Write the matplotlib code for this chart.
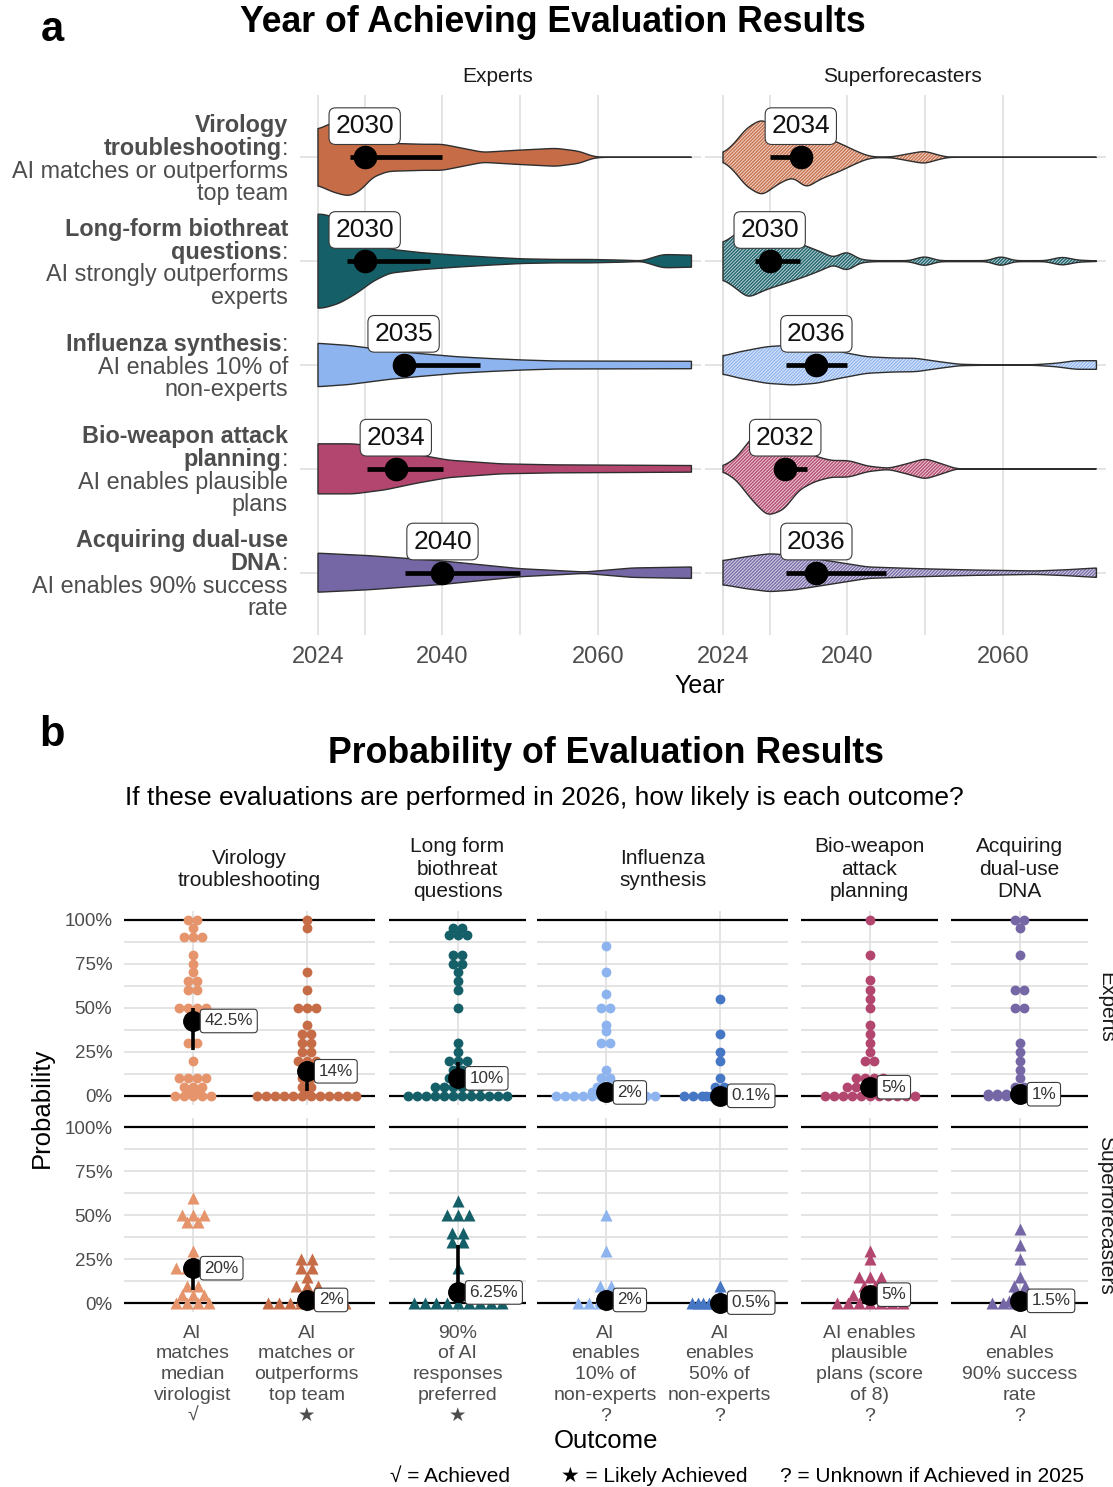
import numpy as np
import matplotlib
matplotlib.use("Agg")
import matplotlib.pyplot as plt
from matplotlib.colors import to_rgb

plt.rcParams["font.family"] = ["Liberation Sans", "DejaVu Sans"]
plt.rcParams["hatch.linewidth"] = 0.65

W, H, DPI = 1113, 1487, 100

# ---------------- panel a: year of achieving evaluation results ----------------
task_heads = [["Virology", "troubleshooting"], ["Long-form biothreat", "questions"],
              ["Influenza synthesis"], ["Bio-weapon attack", "planning"],
              ["Acquiring dual-use", "DNA"]]
task_claims = [["AI matches or outperforms", "top team"], ["AI strongly outperforms", "experts"],
               ["AI enables 10% of", "non-experts"], ["AI enables plausible", "plans"],
               ["AI enables 90% success", "rate"]]
task_colors = ["#c66d47", "#155f68", "#8db4ef", "#b3466e", "#7567a6"]
groups = ["Experts", "Superforecasters"]

# density profiles (year, relative density) per task and group
exp_vir_years = [2024, 2026, 2028, 2029.5, 2031, 2033, 2037.5, 2040, 2042.6, 2045.2, 2049.5, 2054.6, 2057.6, 2059.3, 2060.5, 2072]
exp_vir_dens = [28, 35, 39, 33, 20, 14, 13, 13, 9, 5, 7, 9, 6, 1, 0, 0]
exp_long_years = [2024, 2024.7, 2026.8, 2029, 2031.1, 2033.2, 2037.5, 2041.8, 2046, 2050.3, 2054.6, 2058.9, 2063.2, 2065.7, 2068.3, 2072]
exp_long_dens = [47, 47, 42, 32, 20, 12, 8.3, 6, 4, 2.3, 1.7, 1.7, 1, 0.3, 6.7, 6]
exp_flu_years = [2024, 2028, 2033.2, 2037, 2041.8, 2046, 2050.3, 2054.6, 2072]
exp_flu_dens = [21.7, 19.5, 14.3, 11.5, 8.3, 6.5, 5, 4, 3.7]
exp_bio_years = [2024, 2028.6, 2032.6, 2036.7, 2040.8, 2047.5, 2054.3, 2072]
exp_bio_dens = [25, 25, 21, 14.3, 8.7, 5, 4, 3.3]
exp_dna_years = [2024, 2030.6, 2040, 2050, 2058.3, 2064.4, 2072]
exp_dna_dens = [19.5, 17, 11.7, 4, 0.7, 4.7, 5.7]

sf_vir_years = [2024, 2025.3, 2027, 2029, 2031.3, 2033, 2034.7, 2036.4, 2039, 2041.1, 2042.4, 2043.5, 2045.8, 2047.5, 2049.9, 2051.8, 2053, 2072]
sf_vir_dens = [4, 12.5, 29, 38.3, 25.7, 19.7, 30.7, 22.3, 14, 6.3, 2, 0.3, 0.5, 3, 6.3, 2, 0, 0]
sf_long_years = [2024, 2025.3, 2027.2, 2029.6, 2032.2, 2034.7, 2036.9, 2038.2, 2039.9, 2041.6, 2043.3, 2048, 2049.9, 2051.8, 2058, 2059.7, 2061.5, 2065.5, 2067.6, 2069.6, 2072]
sf_long_dens = [18.3, 25, 36.7, 28.3, 21.7, 15, 8.3, 3.3, 10, 1.7, 0.5, 0.5, 5, 0.5, 0.5, 5, 0.5, 0.5, 4.3, 1, 0.3]
sf_flu_years = [2024, 2026.2, 2029.6, 2033, 2036, 2039, 2042.4, 2045.8, 2048.8, 2051.8, 2054.4, 2057, 2064, 2066.8, 2069.3, 2072]
sf_flu_dens = [9, 13.3, 18.3, 20, 18.3, 13.3, 8.3, 7, 6.7, 3.3, 0.7, 0.3, 0.3, 1.7, 4.3, 4.3]
sf_bio_years = [2024, 2025.7, 2027.7, 2029.7, 2031.8, 2033.8, 2035.8, 2037.9, 2040.2, 2042.6, 2045.3, 2047.6, 2050, 2052.4, 2054, 2072]
sf_bio_dens = [2.5, 11, 31, 47, 41, 21, 12.7, 8.3, 8.3, 2.7, 0.5, 5, 10.3, 4.3, 0, 0]
sf_dna_years = [2024, 2027, 2030, 2033.1, 2035.8, 2039.9, 2042.6, 2049.3, 2056.1, 2064.2, 2068.3, 2072]
sf_dna_dens = [12, 16, 19, 17.3, 14, 9, 5.7, 4, 2.7, 1.7, 3, 4.7]

exp_median_year = [2030, 2030, 2035, 2034, 2040]
exp_interval_lo = [2028.1, 2027.7, 2034, 2030.3, 2035.2]
exp_interval_hi = [2040, 2038.4, 2044.8, 2040.1, 2050]
sf_median_year = [2034, 2030, 2036, 2032, 2036]
sf_interval_lo = [2030, 2028.1, 2032.1, 2031, 2032.1]
sf_interval_hi = [2035, 2033.9, 2039.9, 2034.8, 2045]

# ---------------- panel b: probability of evaluation results ----------------
outcome_tasks = ["Virology\ntroubleshooting", "Long form\nbiothreat\nquestions",
                 "Influenza\nsynthesis", "Bio-weapon\nattack\nplanning",
                 "Acquiring\ndual-use\nDNA"]
outcomes_per_task = [2, 1, 2, 1, 1]
outcome_labels = [["AI", "matches", "median", "virologist"],
                  ["AI", "matches or", "outperforms", "top team"],
                  ["90%", "of AI", "responses", "preferred"],
                  ["AI", "enables", "10% of", "non-experts"],
                  ["AI", "enables", "50% of", "non-experts"],
                  ["AI enables", "plausible", "plans (score", "of 8)"],
                  ["AI", "enables", "90% success", "rate"]]
outcome_status = ["\u221a", "\u2605", "\u2605", "?", "?", "?", "?"]
outcome_colors = ["#e5946c", "#c66d47", "#155f68", "#8db4ef", "#4677c4", "#b3466e", "#7567a6"]

exp_prob_vir_median = [100, 100, 95, 90, 90, 90, 80, 75, 70, 65, 65, 60, 60, 50, 50, 50, 50, 45,
                       40, 30, 30, 20, 10, 10, 10, 10, 5, 5, 5, 3, 3, 0, 0, 0, 0, 0]
exp_prob_vir_top = [100, 95, 70, 60, 50, 50, 50, 40, 35, 35, 30, 30, 25, 25, 20, 20, 20, 15, 13,
                    10, 10, 5, 5, 3] + [0] * 12
exp_prob_longform = [95, 95, 91, 91, 91, 80, 80, 75, 75, 70, 65, 60, 50, 30, 25, 20, 20, 20, 15,
                     15, 10, 10, 10] + [5] * 6 + [0] * 12
exp_prob_flu10 = [85, 70, 58, 50, 50, 40, 37, 30, 30, 15, 10, 10, 5, 5, 5, 2, 2, 2, 2] + [0] * 12
exp_prob_flu50 = [55, 35, 25, 20, 10, 5, 5] + [0.1] * 4 + [0] * 9
exp_prob_bio = [100, 80, 66, 60, 55, 50, 40, 35, 30, 25, 20, 20, 10, 10, 10, 10] + [5] * 6 + [0] * 11
exp_prob_dna = [100, 100, 95, 80, 60, 60, 50, 50, 30, 25, 20, 15, 10, 5, 5] + [1] * 8 + [0] * 8

sf_prob_vir_median = [60, 50, 50, 50, 46, 46, 30, 25, 20, 20, 20, 20, 10, 10, 5, 5, 5, 0, 0, 0, 0]
sf_prob_vir_top = [25, 25, 20, 20, 15, 10, 10, 10, 5, 2, 2] + [0] * 8
sf_prob_longform = [58, 50, 50, 50, 40, 40, 35, 35, 20, 6.25] + [0] * 9
sf_prob_flu10 = [50, 30, 10, 10, 5, 2, 2] + [0] * 6
sf_prob_flu50 = [10, 5] + [0.5] * 5 + [0] * 6
sf_prob_bio = [30, 25, 15, 15, 15, 10, 10, 5, 5, 5, 5] + [0] * 7
sf_prob_dna = [42, 33, 25, 15, 10, 10, 5, 5, 1.5, 1.5, 1.5] + [0] * 6

exp_prob_lo = [26, 3, 5, 0, 0, 2, 0]
exp_prob_hi = [50, 20, 19, 5, 2, 8, 3]
sf_prob_lo = [7.5, 0, 0, 0, 0, 2, 0]
sf_prob_hi = [22, 5, 33, 5, 2, 8, 5]

# ------------------------------------------------------------------------------
fig = plt.figure(figsize=(W / DPI, H / DPI), dpi=DPI)
fig.patch.set_facecolor("white")
renderer = fig.canvas.get_renderer()

TXT_GRAY = "#4d4d4d"
STRIP = "#1a1a1a"
GRID = "#e2e2e2"


def fx(px):
    return px / W


def fy(py):
    return 1 - py / H


def add_ax(x0, y0, x1, y1):
    return fig.add_axes([x0 / W, 1 - y1 / H, (x1 - x0) / W, (y1 - y0) / H])


def lighten(c, amt):
    r, g, b = to_rgb(c)
    return (r + (1 - r) * amt, g + (1 - g) * amt, b + (1 - b) * amt)


def smooth_profile(years, dens, n=900, sigma=0.5):
    g = np.linspace(years[0], years[-1], n)
    d = np.interp(g, years, dens)
    step = g[1] - g[0]
    k = max(1, int(3 * sigma / step))
    kern = np.exp(-0.5 * (np.arange(-k, k + 1) * step / sigma) ** 2)
    kern /= kern.sum()
    d = np.convolve(np.pad(d, k, mode="edge"), kern, mode="valid")
    return g, d


# ---------------- panel a ----------------
PX_PER_YEAR = 7.78
XLIM_A = (2021.7, 2073.2)
ROW_PX = 103.75
VIOLIN_SCALE = 1.0 / ROW_PX
A_TOP, A_BOT = 95, 635
panel_left = [318 - (2024 - XLIM_A[0]) * PX_PER_YEAR, 723 - (2024 - XLIM_A[0]) * PX_PER_YEAR]
panel_w = (XLIM_A[1] - XLIM_A[0]) * PX_PER_YEAR

profiles = {
    "Experts": [(exp_vir_years, exp_vir_dens), (exp_long_years, exp_long_dens),
                (exp_flu_years, exp_flu_dens), (exp_bio_years, exp_bio_dens),
                (exp_dna_years, exp_dna_dens)],
    "Superforecasters": [(sf_vir_years, sf_vir_dens), (sf_long_years, sf_long_dens),
                         (sf_flu_years, sf_flu_dens), (sf_bio_years, sf_bio_dens),
                         (sf_dna_years, sf_dna_dens)],
}
summaries = {
    "Experts": (exp_median_year, exp_interval_lo, exp_interval_hi),
    "Superforecasters": (sf_median_year, sf_interval_lo, sf_interval_hi),
}

for gi, grp in enumerate(groups):
    ax = add_ax(panel_left[gi], A_TOP, panel_left[gi] + panel_w, A_BOT)
    ax.set_xlim(*XLIM_A)
    ax.set_ylim(0.4, 5.6)
    for s in ax.spines.values():
        s.set_visible(False)
    ax.set_xticks([2024, 2040, 2060])
    ax.set_xticks([2030, 2050], minor=True)
    ax.set_yticks([1, 2, 3, 4, 5])
    ax.set_yticklabels([])
    ax.tick_params(axis="both", which="both", length=0)
    ax.tick_params(axis="x", labelsize=17, labelcolor=TXT_GRAY, pad=8)
    ax.grid(True, which="both", axis="x", color=GRID, lw=1.3)
    ax.grid(True, which="major", axis="y", color=GRID, lw=1.3)
    ax.set_axisbelow(True)
    med, lo, hi = summaries[grp]
    for ti in range(5):
        row = 5 - ti
        yrs, dens = profiles[grp][ti]
        g, d = smooth_profile(yrs, dens)
        hw = d * VIOLIN_SCALE
        xs = np.concatenate([g, g[::-1]])
        ys = np.concatenate([row + hw, row - hw[::-1]])
        col = task_colors[ti]
        if grp == "Experts":
            ax.fill(xs, ys, facecolor=col, edgecolor="none", zorder=2)
        else:
            ax.fill(xs, ys, facecolor=lighten(col, 0.05), edgecolor="none", zorder=2)
            ax.fill(xs, ys, facecolor="none", edgecolor=lighten(col, 0.75), hatch="/" * 10,
                    lw=0, zorder=2.1)
        ax.fill(xs, ys, facecolor="none", edgecolor="#2e2e2e", lw=1.0, zorder=2.2)
        ax.plot([lo[ti], hi[ti]], [row, row], color="black", lw=3.4,
                solid_capstyle="butt", zorder=4)
        ax.plot([med[ti]], [row], "o", color="black", ms=16, zorder=5)
        ax.text(med[ti], row + 0.30, f"{med[ti]}", ha="center", va="center", fontsize=19,
                color="#111111", zorder=6,
                bbox=dict(boxstyle="round,pad=0.24,rounding_size=0.25", fc="white",
                          ec="#3a3a3a", lw=0.8))
    fig.text(fx(panel_left[gi] + panel_w / 2 - 3), fy(77), grp, ha="center", va="center",
             fontsize=15, color=STRIP)

fig.text(fx(700), fy(686), "Year", ha="center", va="center", fontsize=18, color="black")


def right_line(x_px, base_px, parts, size, color):
    cur = x_px
    for text, weight in reversed(parts):
        t = fig.text(fx(cur), fy(base_px), text, ha="right", va="baseline", fontsize=size,
                     weight=weight, color=color)
        cur -= t.get_window_extent(renderer).width


LINE_PX = 22.7
ROW_LABEL_PT = 16.8
for ti in range(5):
    center = 158 + ti * ROW_PX
    lines = [[(h, "bold")] for h in task_heads[ti]]
    lines[-1] = lines[-1] + [(":", "normal")]
    lines += [[(c, "normal")] for c in task_claims[ti]]
    n = len(lines)
    for li, parts in enumerate(lines):
        yc = center + (li - (n - 1) / 2) * LINE_PX
        right_line(288, yc + 8.2, parts, ROW_LABEL_PT, TXT_GRAY)

fig.text(fx(553), fy(23), "Year of Achieving Evaluation Results", ha="center", va="center",
         fontsize=25.7, weight="bold", color="black")
fig.text(fx(52), fy(30), "a", ha="center", va="center", fontsize=30, weight="bold")

# ---------------- panel b ----------------
PPU = 114.2
col_x0 = [124, 389, 537, 801, 951]
row_span = {"Experts": (910.7, 1104.8), "Superforecasters": (1118.2, 1312.3)}
dot_values = {
    "Experts": [exp_prob_vir_median, exp_prob_vir_top, exp_prob_longform, exp_prob_flu10,
                exp_prob_flu50, exp_prob_bio, exp_prob_dna],
    "Superforecasters": [sf_prob_vir_median, sf_prob_vir_top, sf_prob_longform, sf_prob_flu10,
                         sf_prob_flu50, sf_prob_bio, sf_prob_dna],
}
dot_intervals = {"Experts": (exp_prob_lo, exp_prob_hi),
                 "Superforecasters": (sf_prob_lo, sf_prob_hi)}
markers = {"Experts": ("o", 50, 9.0), "Superforecasters": ("^", 75, 11.0)}


def stack_offsets(values, spacing):
    vals = np.asarray(values, float)
    off = np.zeros_like(vals)
    for v in np.unique(vals):
        idx = np.where(vals == v)[0]
        off[idx] = (np.arange(len(idx)) - (len(idx) - 1) / 2) * spacing
    return off


cat_px = []
for grp in groups:
    y0, y1 = row_span[grp]
    k = 0
    for c, ncat in enumerate(outcomes_per_task):
        x0 = col_x0[c]
        ax = add_ax(x0, y0, x0 + (ncat + 0.2) * PPU, y1)
        ax.set_xlim(0.4, ncat + 0.6)
        ax.set_ylim(-5, 105)
        for s in ax.spines.values():
            s.set_visible(False)
        ax.set_xticks(np.arange(1, ncat + 1))
        ax.set_xticklabels([])
        ax.set_yticks([0, 25, 50, 75, 100])
        ax.set_yticks([12.5, 37.5, 62.5, 87.5], minor=True)
        ax.tick_params(axis="both", which="both", length=0)
        if c == 0:
            ax.set_yticklabels(["0%", "25%", "50%", "75%", "100%"])
            ax.tick_params(axis="y", labelsize=13.5, labelcolor=TXT_GRAY, pad=8.5)
        else:
            ax.set_yticklabels([])
        ax.grid(True, which="both", axis="y", color=GRID, lw=1.3)
        ax.grid(True, which="major", axis="x", color=GRID, lw=1.3)
        ax.set_axisbelow(True)
        ax.axhline(0, color="black", lw=1.6, zorder=1.5)
        ax.axhline(100, color="black", lw=1.6, zorder=1.5)
        mk, size, sp_px = markers[grp]
        lo, hi = dot_intervals[grp]
        for j in range(ncat):
            cat = j + 1
            vals = dot_values[grp][k]
            off = stack_offsets(vals, sp_px / PPU)
            ax.scatter(cat + off, vals, s=size, marker=mk, color=outcome_colors[k],
                       linewidths=0, zorder=3, clip_on=False)
            med = float(np.median(vals))
            ax.plot([cat, cat], [lo[k], hi[k]], color="black", lw=2.6,
                    solid_capstyle="butt", zorder=4)
            ax.plot([cat], [med], "o", color="black", ms=14, zorder=5, clip_on=False)
            ax.text(cat + 0.105, med, f"{med:g}%", ha="left", va="center", fontsize=12.3,
                    color="#333333", zorder=6,
                    bbox=dict(boxstyle="round,pad=0.25,rounding_size=0.2", fc="white",
                              ec="#3a3a3a", lw=0.8))
            if grp == "Experts":
                cat_px.append(x0 + (cat - 0.4) * PPU)
            k += 1
        if grp == "Experts":
            lines = outcome_tasks[c].split("\n")
            cx = x0 + (ncat + 0.2) * PPU / 2
            for li, ln in enumerate(lines):
                yc = 869 + (li - (len(lines) - 1) / 2) * 22.5
                fig.text(fx(cx), fy(yc + 5.8), ln, ha="center", va="baseline",
                         fontsize=15, color=STRIP)
    fig.text(fx(1106), fy((y0 + y1) / 2), grp, rotation=270, ha="center", va="center",
             fontsize=15, color=STRIP)

for k, xc in enumerate(cat_px):
    lines = outcome_labels[k] + [outcome_status[k]]
    for li, ln in enumerate(lines):
        fig.text(fx(xc), fy(1332 + li * 20.8 + 5.6), ln, ha="center", va="baseline",
                 fontsize=14, color=TXT_GRAY)

fig.text(fx(42), fy(1108), "Probability", rotation=90, ha="center", va="center",
         fontsize=18.5, color="black")
fig.text(fx(606), fy(1441), "Outcome", ha="center", va="center", fontsize=18.5, color="black")
fig.text(fx(390), fy(1476), "\u221a = Achieved", ha="left", va="center", fontsize=15)
fig.text(fx(561), fy(1476), "\u2605 = Likely Achieved", ha="left", va="center", fontsize=15)
fig.text(fx(780), fy(1476), "? = Unknown if Achieved in 2025", ha="left", va="center",
         fontsize=15)

fig.text(fx(606), fy(754), "Probability of Evaluation Results", ha="center", va="center",
         fontsize=25.7, weight="bold", color="black")
fig.text(fx(125), fy(798), "If these evaluations are performed in 2026, how likely is each outcome?",
         ha="left", va="center", fontsize=19, color="black")
fig.text(fx(52), fy(735), "b", ha="center", va="center", fontsize=30, weight="bold")

fig.savefig("out.png", dpi=DPI, facecolor="white")
